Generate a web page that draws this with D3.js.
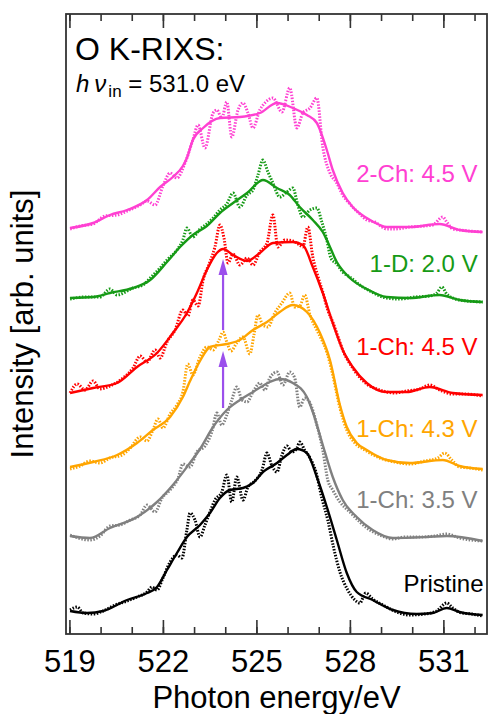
<!DOCTYPE html>
<html>
<head>
<meta charset="utf-8">
<script src="https://cdn.jsdelivr.net/npm/d3@7"></script>
<style>
  body { margin: 0; background: #fff; }
  text { font-family: "Liberation Sans", Arial, sans-serif; }
</style>
</head>
<body>
<div id="vis"></div>
<script>
// energy [eV], intensity [arb. units, stacked]
let pinkFit = [[519.02,4.06],[519.76,4.11],[520.30,4.19],[520.85,4.24],[521.49,4.34],[521.91,4.47],[522.32,4.57],[522.64,4.68],[522.77,4.76],[522.96,4.94],[523.29,5.06],[523.83,5.16],[524.47,5.17],[525.11,5.21],[525.66,5.31],[526.17,5.26],[526.62,5.19],[526.94,5.11],[527.04,5.04],[527.26,4.84],[527.45,4.64],[527.77,4.41],[528.09,4.27],[528.54,4.16],[528.96,4.09],[529.18,4.07],[529.92,4.07],[530.88,4.10],[531.52,4.04],[532.26,4.02]]
let pinkRaw = [[519.02,4.05],[519.34,4.08],[519.76,4.10],[520.14,4.18],[520.53,4.19],[520.85,4.23],[521.27,4.29],[521.49,4.33],[521.75,4.29],[522.00,4.48],[522.23,4.61],[522.45,4.56],[522.71,4.71],[522.96,4.94],[523.13,5.09],[523.35,4.86],[523.61,5.21],[523.73,5.24],[523.89,5.16],[524.05,5.32],[524.21,4.97],[524.41,5.24],[524.57,5.31],[524.73,5.21],[524.89,5.06],[525.11,5.24],[525.27,5.31],[525.53,5.36],[525.82,5.22],[526.07,5.46],[526.30,5.06],[526.49,5.21],[526.72,5.26],[526.94,5.36],[527.13,4.87],[527.36,4.61],[527.58,4.51],[527.77,4.39],[528.00,4.30],[528.32,4.20],[528.54,4.14],[528.80,4.12],[529.18,4.05],[529.44,4.05],[529.92,4.07],[530.40,4.08],[530.66,4.09],[530.98,4.17],[531.11,4.12],[531.30,4.05],[531.52,4.04],[531.84,4.03],[532.26,4.02]]

let greenFit = [[519.02,3.36],[519.76,3.37],[520.30,3.41],[521.04,3.46],[521.59,3.54],[522.13,3.72],[522.55,3.87],[522.96,3.99],[523.41,4.08],[523.83,4.21],[524.25,4.31],[524.70,4.41],[525.21,4.54],[525.66,4.46],[526.07,4.39],[526.39,4.27],[526.81,4.14],[527.13,4.02],[527.26,3.94],[527.58,3.72],[528.00,3.56],[528.54,3.45],[529.18,3.37],[529.92,3.36],[530.88,3.39],[531.52,3.34],[532.26,3.32]]
let greenRaw = [[519.02,3.35],[519.50,3.37],[519.98,3.37],[520.30,3.45],[520.53,3.39],[521.04,3.46],[521.36,3.49],[521.59,3.56],[521.91,3.66],[522.13,3.74],[522.45,3.84],[522.64,3.94],[522.77,4.06],[522.96,3.97],[523.19,4.05],[523.41,4.10],[523.61,4.16],[523.83,4.24],[524.05,4.30],[524.25,4.41],[524.47,4.27],[524.70,4.39],[524.89,4.44],[525.05,4.59],[525.21,4.74],[525.37,4.62],[525.53,4.51],[525.75,4.37],[525.98,4.42],[526.17,4.46],[526.33,4.29],[526.49,4.17],[526.72,4.24],[526.94,4.26],[527.10,4.12],[527.26,3.94],[527.39,3.76],[527.58,3.70],[527.77,3.62],[528.00,3.57],[528.32,3.49],[528.64,3.43],[529.18,3.36],[529.60,3.35],[530.08,3.37],[530.56,3.38],[530.79,3.41],[530.95,3.47],[531.11,3.40],[531.52,3.34],[532.26,3.32]]

let redFit = [[519.02,2.41],[519.76,2.46],[520.53,2.51],[521.17,2.67],[521.81,2.81],[522.32,3.01],[522.77,3.21],[523.09,3.41],[523.41,3.64],[523.73,3.81],[523.93,3.85],[524.25,3.79],[524.70,3.73],[525.11,3.81],[525.53,3.91],[526.17,3.92],[526.49,3.89],[526.81,3.67],[527.13,3.41],[527.45,3.11],[527.77,2.84],[528.09,2.67],[528.54,2.51],[529.18,2.42],[529.82,2.42],[530.56,2.47],[531.30,2.41],[532.26,2.39]]
let redRaw = [[519.02,2.41],[519.25,2.50],[519.50,2.44],[519.76,2.53],[519.98,2.45],[520.30,2.48],[520.72,2.56],[521.04,2.66],[521.27,2.78],[521.49,2.72],[521.75,2.84],[521.91,2.76],[522.13,2.92],[522.39,3.04],[522.64,3.24],[522.80,3.18],[522.96,3.34],[523.13,3.28],[523.29,3.54],[523.51,3.72],[523.67,3.87],[523.83,4.09],[523.96,3.96],[524.09,3.71],[524.25,3.80],[524.47,3.69],[524.70,3.76],[524.89,3.69],[525.11,3.82],[525.34,3.91],[525.53,4.19],[525.69,3.87],[525.91,3.94],[526.17,3.93],[526.39,3.89],[526.49,3.87],[526.65,4.07],[526.81,3.77],[526.97,3.58],[527.13,3.42],[527.29,3.24],[527.45,3.12],[527.61,2.98],[527.77,2.84],[528.09,2.66],[528.54,2.50],[528.96,2.44],[529.44,2.41],[529.82,2.43],[530.24,2.45],[530.56,2.49],[530.88,2.44],[531.30,2.40],[531.68,2.40],[532.26,2.38]]

let orangeFit = [[519.02,1.67],[519.76,1.72],[520.53,1.79],[521.17,1.91],[521.68,2.04],[522.23,2.17],[522.64,2.37],[522.87,2.53],[523.19,2.73],[523.51,2.87],[524.05,2.90],[524.47,2.94],[524.89,3.04],[525.34,3.12],[525.75,3.22],[526.17,3.29],[526.62,3.22],[527.04,3.01],[527.36,2.74],[527.68,2.29],[527.90,2.07],[528.22,1.91],[528.54,1.84],[529.18,1.74],[529.92,1.71],[530.98,1.74],[531.52,1.68],[532.26,1.65]]
let orangeRaw = [[519.02,1.65],[519.34,1.68],[519.66,1.73],[519.98,1.71],[520.30,1.76],[520.69,1.79],[520.95,1.86],[521.27,1.97],[521.49,1.93],[521.68,2.04],[521.84,2.15],[522.00,2.06],[522.23,2.20],[522.45,2.29],[522.64,2.42],[522.80,2.70],[522.96,2.59],[523.19,2.77],[523.41,2.87],[523.61,2.84],[523.80,2.94],[523.93,3.02],[524.05,2.92],[524.18,2.83],[524.37,2.91],[524.57,2.97],[524.79,2.80],[524.92,2.99],[525.05,3.19],[525.21,3.09],[525.37,3.07],[525.59,3.21],[525.82,3.31],[526.07,3.41],[526.23,3.27],[526.39,3.28],[526.55,3.39],[526.72,3.19],[526.94,3.04],[527.10,2.94],[527.26,2.82],[527.45,2.59],[527.68,2.26],[527.90,2.04],[528.16,1.91],[528.48,1.84],[528.96,1.76],[529.44,1.72],[529.92,1.70],[530.40,1.73],[530.82,1.76],[531.04,1.81],[531.27,1.74],[531.52,1.67],[531.84,1.66],[532.26,1.64]]

let grayFit = [[519.02,0.98],[519.66,0.96],[520.30,1.06],[521.17,1.17],[521.81,1.32],[522.32,1.49],[522.77,1.67],[523.19,1.85],[523.61,2.07],[524.05,2.24],[524.47,2.34],[524.89,2.42],[525.43,2.52],[525.75,2.55],[526.17,2.51],[526.62,2.37],[526.81,2.22],[527.13,1.89],[527.45,1.57],[527.77,1.34],[528.22,1.17],[528.73,1.04],[529.38,0.96],[530.46,0.97],[531.11,0.98],[532.26,0.93]]
let grayRaw = [[519.02,0.99],[519.28,0.96],[519.66,0.94],[519.98,0.98],[520.30,1.08],[520.62,1.09],[520.95,1.14],[521.27,1.19],[521.49,1.29],[521.75,1.22],[521.97,1.36],[522.23,1.44],[522.49,1.56],[522.64,1.70],[522.87,1.67],[523.09,1.82],[523.35,1.88],[523.58,2.03],[523.73,2.21],[523.89,2.09],[524.05,2.19],[524.21,2.34],[524.37,2.47],[524.54,2.34],[524.70,2.32],[524.89,2.42],[525.11,2.51],[525.27,2.44],[525.43,2.56],[525.66,2.62],[525.85,2.49],[526.07,2.62],[526.23,2.56],[526.39,2.27],[526.55,2.36],[526.72,2.31],[526.94,2.09],[527.13,1.84],[527.29,1.54],[527.45,1.44],[527.68,1.32],[528.00,1.22],[528.32,1.12],[528.64,1.04],[528.96,0.99],[529.38,0.95],[529.76,0.97],[530.24,0.97],[530.72,0.98],[531.11,1.00],[531.52,0.96],[532.26,0.93]]

let blackFit = [[519.02,0.23],[519.57,0.21],[520.08,0.23],[520.85,0.34],[521.49,0.41],[521.81,0.47],[522.13,0.64],[522.45,0.81],[522.77,0.97],[523.19,1.09],[523.51,1.21],[523.83,1.36],[524.15,1.44],[524.57,1.46],[524.89,1.51],[525.21,1.62],[525.66,1.71],[525.98,1.79],[526.30,1.85],[526.62,1.81],[526.94,1.57],[527.26,1.27],[527.58,0.94],[527.90,0.61],[528.22,0.42],[528.73,0.34],[529.38,0.24],[530.14,0.20],[530.66,0.21],[531.11,0.26],[531.52,0.22],[532.26,0.19]]
let blackRaw = [[519.02,0.24],[519.25,0.27],[519.44,0.21],[519.76,0.20],[520.08,0.23],[520.47,0.29],[520.85,0.33],[521.17,0.37],[521.49,0.42],[521.65,0.47],[521.81,0.44],[522.00,0.56],[522.23,0.72],[522.45,0.79],[522.61,0.76],[522.77,1.04],[522.87,1.21],[523.03,1.14],[523.19,0.97],[523.35,1.09],[523.51,1.22],[523.67,1.34],[523.89,1.42],[524.05,1.59],[524.21,1.32],[524.37,1.57],[524.57,1.34],[524.73,1.47],[524.95,1.53],[525.18,1.64],[525.34,1.81],[525.50,1.68],[525.66,1.62],[525.82,1.79],[525.98,1.88],[526.14,1.82],[526.30,1.86],[526.39,1.92],[526.55,1.84],[526.72,1.76],[526.91,1.62],[527.10,1.36],[527.29,1.14],[527.48,0.86],[527.68,0.62],[527.93,0.44],[528.16,0.34],[528.32,0.31],[528.51,0.41],[528.73,0.35],[529.12,0.28],[529.50,0.22],[529.92,0.19],[530.40,0.20],[530.78,0.23],[531.11,0.31],[531.30,0.26],[531.59,0.21],[531.91,0.20],[532.26,0.18]]

let labels = ['2-Ch: 4.5 V', '1-D: 2.0 V', '1-Ch: 4.5 V', '1-Ch: 4.3 V', '1-Ch: 3.5 V', 'Pristine']
let colors = ['#ff40d2', '#169a16', '#ff0000', '#ffa500', '#808080', '#000000']
let labelLevels = [4.52, 3.62, 2.79, 1.97, 1.26, 0.42]
let labelEnergy = [532.10, 532.10, 532.10, 532.10, 532.10, 532.29]

// purple arrows at the shoulder
let arrowEnergy = 523.93
let arrowFrom = [3.04, 2.26]
let arrowTo = [3.75, 2.83]

let majorTicks = [519, 522, 525, 528, 531]
let minorTicks = d3.range(519, 533, 1)

let fits = [pinkFit, greenFit, redFit, orangeFit, grayFit, blackFit]
let raws = [pinkRaw, greenRaw, redRaw, orangeRaw, grayRaw, blackRaw]

let margin = {top: 14, left: 66, right: 1, bottom: 80}
let width = 488 - margin.left - margin.right
let height = 714 - margin.top - margin.bottom

let svg = d3.select('#vis')
            .append('svg')
            .attr('width', 488)
            .attr('height', 714)

let g = svg.append('g')
           .attr('transform', `translate(${margin.left},${margin.top})`)

let x = d3.scaleLinear().domain([518.89, 532.4]).range([0, width])
let y = d3.scaleLinear().domain([0, 6.2]).range([height, 0])

let line = d3.line()
             .x(d => x(d[0]))
             .y(d => y(d[1]))
             .curve(d3.curveMonotoneX)

// dotted raw spectra below, fitted lines on top
raws.forEach((r, i) => {
    g.append('path')
     .datum(r)
     .attr('d', line)
     .attr('fill', 'none')
     .attr('stroke', colors[i])
     .attr('stroke-width', 3)
     .attr('stroke-dasharray', '1.5,1.5')
})

fits.forEach((f, i) => {
    g.append('path')
     .datum(f)
     .attr('d', line)
     .attr('fill', 'none')
     .attr('stroke', colors[i])
     .attr('stroke-width', 2.4)
     .attr('stroke-linejoin', 'round')
})

labels.forEach((t, i) => {
    g.append('text')
     .attr('x', x(labelEnergy[i]))
     .attr('y', y(labelLevels[i]))
     .attr('text-anchor', 'end')
     .attr('font-size', 24)
     .attr('fill', colors[i])
     .text(t)
})

// arrows
let purple = '#9b4fec'
arrowFrom.forEach((a, i) => {
    let tx = x(arrowEnergy), ty = y(arrowTo[i])
    g.append('line')
     .attr('x1', tx).attr('x2', tx)
     .attr('y1', y(a)).attr('y2', ty + 12)
     .attr('stroke', purple)
     .attr('stroke-width', 2.2)
    g.append('path')
     .attr('d', `M${tx},${ty} L${tx - 4.5},${ty + 16} L${tx + 4.5},${ty + 16} Z`)
     .attr('fill', purple)
})

// axes: inward ticks, top and bottom
let axisColor = '#333'
function styleAxis(sel) {
    sel.select('.domain').remove()
    sel.selectAll('line').attr('stroke', axisColor).attr('stroke-width', 1.6)
}

g.append('g')
 .attr('transform', `translate(0,${height})`)
 .call(d3.axisBottom(x).tickValues(minorTicks).tickSize(-7).tickFormat(''))
 .call(styleAxis)

let bottom = g.append('g')
 .attr('transform', `translate(0,${height})`)
 .call(d3.axisBottom(x).tickValues(majorTicks).tickSize(-14).tickFormat(d3.format('d')))
 .call(styleAxis)

bottom.selectAll('text')
      .attr('y', 38)
      .attr('dy', 0)
      .attr('font-size', 31)
      .attr('font-family', '"Liberation Sans", Arial, sans-serif')
      .attr('fill', '#000')

g.append('g')
 .call(d3.axisTop(x).tickValues(minorTicks).tickSize(-7).tickFormat(''))
 .call(styleAxis)

g.append('g')
 .call(d3.axisTop(x).tickValues(majorTicks).tickSize(-14).tickFormat(''))
 .call(styleAxis)

g.append('rect')
 .attr('x', 0).attr('y', 0)
 .attr('width', width).attr('height', height)
 .attr('fill', 'none')
 .attr('stroke', axisColor)
 .attr('stroke-width', 1.8)

// titles
svg.append('text')
   .attr('x', margin.left + width / 2)
   .attr('y', 708)
   .attr('text-anchor', 'middle')
   .attr('font-size', 31)
   .text('Photon energy/eV')

svg.append('text')
   .attr('transform', `translate(33,${margin.top + height / 2}) rotate(-90)`)
   .attr('text-anchor', 'middle')
   .attr('font-size', 31)
   .text('Intensity [arb. units]')

svg.append('text')
   .attr('x', 75)
   .attr('y', 60)
   .attr('font-size', 32)
   .text('O K-RIXS:')

let sub = svg.append('text')
   .attr('x', 76)
   .attr('y', 92)
   .attr('font-size', 24)
sub.append('tspan').attr('font-style', 'italic').text('h')
sub.append('tspan').attr('font-style', 'italic').attr('dx', 5).text('ν')
sub.append('tspan').attr('font-size', 17).attr('dx', 2).attr('dy', 5).text('in')
sub.append('tspan').attr('dy', -5).text(' = 531.0 eV')
</script>
</body>
</html>
